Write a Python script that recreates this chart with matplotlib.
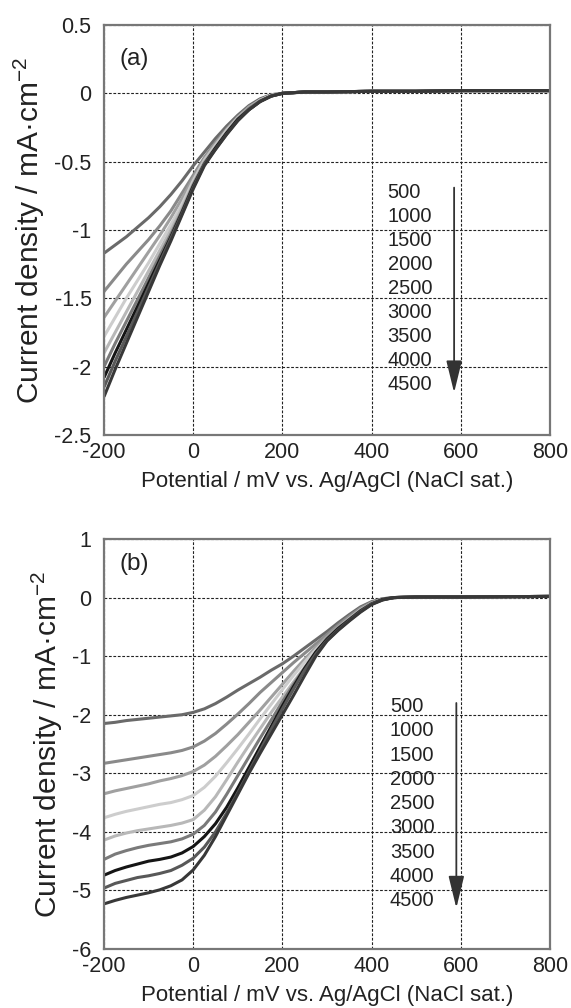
import matplotlib
matplotlib.use("Agg")
import matplotlib.pyplot as plt
from matplotlib.patches import ArrowStyle

plt.rcParams['font.family'] = ['Liberation Sans', 'DejaVu Sans']
plt.rcParams['mathtext.fontset'] = 'custom'
plt.rcParams['mathtext.rm'] = 'Liberation Sans'
plt.rcParams['mathtext.default'] = 'regular'
plt.rcParams['axes.unicode_minus'] = False

# ---------------- data ----------------
speeds = ["500", "1000", "1500", "2000", "2500", "3000", "3500", "4000", "4500"]
colors = ["#6a6a6a", "#8a8a8a", "#a0a0a0", "#cdcdcd", "#b8b8b8", "#7a7a7a", "#151515", "#585858", "#383838"]

pot_a = [-200, -175, -150, -125, -100, -75, -50, -25, 0, 25, 50, 75, 100, 125, 150, 175, 200,
         250, 300, 400, 500, 600, 700, 800]
tail_a = [0.01, 0.01, 0.015, 0.015, 0.02, 0.02, 0.02]
cur_a_500 = [-1.17, -1.11, -1.05, -0.98, -0.91, -0.83, -0.74, -0.64, -0.53, -0.43, -0.33, -0.24, -0.16, -0.09, -0.04, -0.01, 0.00] + tail_a
cur_a_1000 = [-1.45, -1.35, -1.25, -1.16, -1.07, -0.97, -0.86, -0.73, -0.60, -0.47, -0.36, -0.26, -0.17, -0.10, -0.05, -0.015, 0.00] + tail_a
cur_a_1500 = [-1.64, -1.52, -1.40, -1.28, -1.16, -1.04, -0.91, -0.77, -0.62, -0.48, -0.37, -0.27, -0.18, -0.10, -0.05, -0.015, 0.00] + tail_a
cur_a_2000 = [-1.78, -1.64, -1.50, -1.37, -1.24, -1.10, -0.96, -0.81, -0.64, -0.49, -0.38, -0.27, -0.18, -0.11, -0.05, -0.015, 0.00] + tail_a
cur_a_2500 = [-1.90, -1.75, -1.60, -1.45, -1.30, -1.15, -1.00, -0.84, -0.66, -0.50, -0.39, -0.28, -0.18, -0.11, -0.05, -0.015, 0.00] + tail_a
cur_a_3000 = [-2.00, -1.83, -1.67, -1.51, -1.35, -1.19, -1.03, -0.86, -0.67, -0.51, -0.40, -0.29, -0.19, -0.11, -0.055, -0.02, 0.00] + tail_a
cur_a_3500 = [-2.08, -1.90, -1.73, -1.56, -1.39, -1.22, -1.05, -0.87, -0.68, -0.52, -0.40, -0.29, -0.19, -0.12, -0.06, -0.02, 0.00] + tail_a
cur_a_4000 = [-2.15, -1.96, -1.78, -1.60, -1.42, -1.24, -1.06, -0.88, -0.69, -0.52, -0.41, -0.30, -0.20, -0.12, -0.06, -0.02, 0.00] + tail_a
cur_a_4500 = [-2.22, -2.02, -1.83, -1.64, -1.45, -1.26, -1.08, -0.89, -0.70, -0.53, -0.41, -0.30, -0.20, -0.12, -0.06, -0.02, 0.00] + tail_a
cur_a = [cur_a_500, cur_a_1000, cur_a_1500, cur_a_2000, cur_a_2500, cur_a_3000, cur_a_3500, cur_a_4000, cur_a_4500]

pot_b = [-200, -175, -150, -125, -100, -75, -50, -25, 0, 25, 50, 75, 100, 125, 150, 175, 200,
         225, 250, 275, 300, 325, 350, 375, 400, 425, 450, 500, 600, 700, 800]
tail_b = [0.01, 0.01, 0.015, 0.02]
cur_b_500 = [-2.15, -2.13, -2.10, -2.08, -2.06, -2.04, -2.02, -2.00, -1.96, -1.90, -1.81, -1.70, -1.58, -1.47, -1.36, -1.24, -1.13,
             -1.00, -0.86, -0.72, -0.58, -0.43, -0.29, -0.16, -0.07, -0.02, 0.00] + tail_b
cur_b_1000 = [-2.83, -2.80, -2.77, -2.74, -2.71, -2.68, -2.65, -2.61, -2.55, -2.45, -2.32, -2.16, -1.99, -1.81, -1.62, -1.45, -1.28,
              -1.11, -0.95, -0.79, -0.63, -0.47, -0.32, -0.18, -0.08, -0.02, 0.00] + tail_b
cur_b_1500 = [-3.35, -3.30, -3.26, -3.22, -3.18, -3.13, -3.09, -3.04, -2.97, -2.86, -2.71, -2.53, -2.34, -2.13, -1.92, -1.70, -1.48,
              -1.26, -1.05, -0.85, -0.67, -0.50, -0.35, -0.20, -0.09, -0.03, 0.00] + tail_b
cur_b_2000 = [-3.76, -3.70, -3.65, -3.61, -3.57, -3.53, -3.50, -3.45, -3.38, -3.24, -3.05, -2.82, -2.58, -2.33, -2.07, -1.82, -1.57,
              -1.33, -1.10, -0.89, -0.70, -0.52, -0.36, -0.21, -0.10, -0.03, 0.00] + tail_b
cur_b_2500 = [-4.14, -4.07, -4.02, -3.98, -3.95, -3.92, -3.89, -3.85, -3.79, -3.63, -3.40, -3.11, -2.81, -2.52, -2.24, -1.96, -1.70,
              -1.44, -1.19, -0.95, -0.74, -0.55, -0.38, -0.22, -0.10, -0.03, 0.00] + tail_b
cur_b_3000 = [-4.47, -4.38, -4.32, -4.27, -4.23, -4.20, -4.17, -4.12, -4.04, -3.89, -3.66, -3.36, -3.04, -2.72, -2.40, -2.09, -1.78,
              -1.48, -1.20, -0.93, -0.70, -0.52, -0.37, -0.22, -0.10, -0.03, 0.00] + tail_b
cur_b_3500 = [-4.74, -4.66, -4.60, -4.55, -4.50, -4.47, -4.43, -4.36, -4.25, -4.08, -3.86, -3.58, -3.25, -2.90, -2.55, -2.20, -1.85,
              -1.52, -1.21, -0.93, -0.71, -0.53, -0.38, -0.23, -0.11, -0.03, 0.00] + tail_b
cur_b_4000 = [-4.96, -4.88, -4.83, -4.78, -4.75, -4.71, -4.66, -4.57, -4.45, -4.26, -4.00, -3.68, -3.33, -2.97, -2.61, -2.25, -1.90,
              -1.56, -1.24, -0.96, -0.73, -0.55, -0.39, -0.24, -0.11, -0.04, 0.00] + tail_b
cur_b_4500 = [-5.23, -5.17, -5.12, -5.08, -5.04, -4.99, -4.92, -4.82, -4.65, -4.40, -4.08, -3.72, -3.36, -3.00, -2.66, -2.33, -2.00,
              -1.67, -1.33, -1.00, -0.74, -0.56, -0.40, -0.25, -0.12, -0.04, 0.00] + tail_b
cur_b = [cur_b_500, cur_b_1000, cur_b_1500, cur_b_2000, cur_b_2500, cur_b_3000, cur_b_3500, cur_b_4000, cur_b_4500]

xticks = [-200, 0, 200, 400, 600, 800]
xtick_labels = ["-200", "0", "200", "400", "600", "800"]
yticks_a = [0.5, 0, -0.5, -1, -1.5, -2, -2.5]
ytick_labels_a = ["0.5", "0", "-0.5", "-1", "-1.5", "-2", "-2.5"]
yticks_b = [1, 0, -1, -2, -3, -4, -5, -6]
ytick_labels_b = ["1", "0", "-1", "-2", "-3", "-4", "-5", "-6"]

xlabel = "Potential / mV vs. Ag/AgCl (NaCl sat.)"
ylabel = "Current density / mA·cm$^{-2}$"

# ---------------- figure ----------------
W, H = 571, 1008
fig = plt.figure(figsize=(W / 100, H / 100), dpi=100)
ax1 = fig.add_axes([104 / W, 1 - 435 / H, 446 / W, 410 / H])
ax2 = fig.add_axes([104 / W, 1 - 949 / H, 446 / W, 410 / H])


def style(ax, yt, ytl, ylim):
    ax.set_xlim(-200, 800)
    ax.set_ylim(*ylim)
    ax.set_xticks(xticks)
    ax.set_xticklabels(xtick_labels)
    ax.set_yticks(yt)
    ax.set_yticklabels(ytl)
    ax.tick_params(axis='both', length=0, labelsize=15.5, colors='#222222')
    ax.tick_params(axis='y', pad=9)
    ax.tick_params(axis='x', pad=5)
    ax.grid(True, color='#222222', linestyle=(0, (2.5, 1.5)), linewidth=0.8)
    ax.set_axisbelow(True)
    for s in ax.spines.values():
        s.set_color('#777777')
        s.set_linewidth(1.6)
    ax.set_xlabel(xlabel, fontsize=16, color='#222222', labelpad=6)
    ax.set_ylabel(ylabel, fontsize=21.5, color='#222222', labelpad=5)


style(ax1, yticks_a, ytick_labels_a, (-2.5, 0.5))
style(ax2, yticks_b, ytick_labels_b, (-6, 1))

for c, ya, yb in zip(colors, cur_a, cur_b):
    ax1.plot(pot_a, ya, color=c, lw=2.2, solid_capstyle='butt')
    ax2.plot(pot_b, yb, color=c, lw=2.2, solid_capstyle='butt')

ax1.text(-165, 0.25, "(a)", fontsize=17.5, color='#222222', va='center', ha='left')
ax2.text(-165, 0.57, "(b)", fontsize=17.5, color='#222222', va='center', ha='left')

astyle = ArrowStyle('-|>', head_length=0.9, head_width=0.22)
# panel (a) legend
for i, s in enumerate(speeds):
    ax1.text(436, -0.724 - 0.1755 * i, s, fontsize=14.5, color='#222222', va='center', ha='left')
ax1.annotate('', xy=(585, -2.19), xytext=(585, -0.69),
             arrowprops=dict(arrowstyle=astyle, color='#333333', lw=1.3, mutation_scale=22, shrinkA=0, shrinkB=0))
# panel (b) legend
for i, s in enumerate(speeds):
    ax2.text(441, -1.863 - 0.4137 * i, s, fontsize=14.5, color='#222222', va='center', ha='left')
ax2.annotate('', xy=(590, -5.3), xytext=(590, -1.8),
             arrowprops=dict(arrowstyle=astyle, color='#333333', lw=1.3, mutation_scale=22, shrinkA=0, shrinkB=0))

fig.savefig("out.png", dpi=100)
